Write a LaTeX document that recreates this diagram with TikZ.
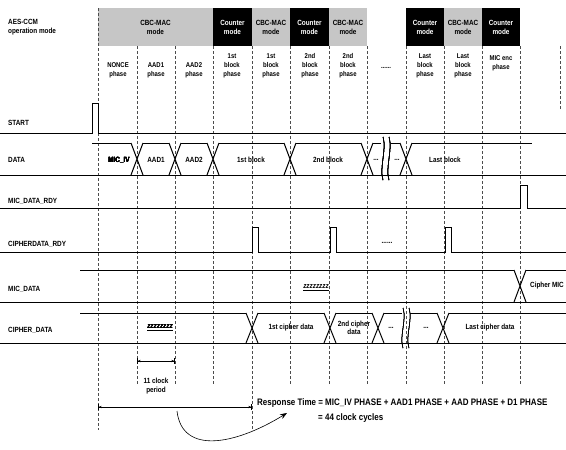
\documentclass[tikz,border=0pt]{standalone}
\usepackage{fontspec}
\setmainfont{Liberation Sans}[FakeStretch=0.85]
\usetikzlibrary{arrows.meta}
\tikzset{
 lbl/.style={anchor=west,font=\fontsize{7.5}{8.5}\bfseries\selectfont,inner sep=0pt,align=left},
 phase/.style={font=\fontsize{7}{9}\bfseries\selectfont,align=center,inner sep=0pt},
 txt/.style={font=\fontsize{7.5}{8.5}\bfseries\selectfont,align=center,inner sep=0pt},
 cbcbox/.style={fill=gray!45,font=\fontsize{7.5}{9}\bfseries\selectfont,align=center,inner sep=0pt,minimum height=38pt},
 ctrbox/.style={fill=black,text=white,font=\fontsize{7.5}{9}\bfseries\selectfont,align=center,inner sep=0pt,minimum width=38.5pt,minimum height=38pt},
 grid/.style={dash pattern=on 3pt off 2pt,line width=0.5pt,black!70},
 sig/.style={line width=0.8pt},
 bus/.style={line width=1pt},
 zz/.style={font=\fontsize{7.5}{8.5}\bfseries\itshape\selectfont,inner sep=0pt},
 resptxt/.style={anchor=west,font=\fontsize{9.4}{10}\bfseries\selectfont,inner sep=0pt},
}
\newcommand\buscross[3]{\draw[bus] (#1-6,#2) -- (#1+6,#3) (#1-6,#3) -- (#1+6,#2);}
\newcommand\busbreak[3]{%
 \draw[line width=0.5pt] (#1-3,#2) .. controls (#1+1,#2+12) and (#1-7,#3-12) .. (#1-3,#3);
 \draw[line width=0.5pt] (#1+3,#2) .. controls (#1+7,#2+12) and (#1-1,#3-12) .. (#1+3,#3);}

\begin{document}
\begin{tikzpicture}[x=1pt,y=-1pt]
    \useasboundingbox (0,0) rectangle (566,450);
    % header
    \node[cbcbox,minimum width=115pt] (cbc1) at (155.5,27) {CBC-MAC\\mode};
    \node[ctrbox] (ctr1) at (232.5,27) {Counter\\mode};
    \node[cbcbox,minimum width=38pt] (cbc2) at (271,27) {CBC-MAC\\mode};
    \node[ctrbox] (ctr2) at (309.5,27) {Counter\\mode};
    \node[cbcbox,minimum width=38pt] (cbc3) at (348,27) {CBC-MAC\\mode};
    \node[ctrbox] (ctr3) at (425,27) {Counter\\mode};
    \node[cbcbox,minimum width=38pt] (cbc4) at (463,27) {CBC-MAC\\mode};
    \node[ctrbox] (ctr4) at (501,27) {Counter\\mode};
    % grid
    \foreach \x in {137,175,213,290,329,367,406,444,482,520}
        \draw[grid] (\x,46) -- (\x,385);
    \draw[grid] (98,8) -- (98,430);
    \draw[grid] (252,46) -- (252,430);
    \draw[grid] (560,46) -- (560,110);
    % phases
    \node[phase] (ph1) at (118,70) {NONCE\\phase};
    \node[phase] (ph2) at (156,70) {AAD1\\phase};
    \node[phase] (ph3) at (194,70) {AAD2\\phase};
    \node[phase] (ph4) at (232,66) {1st\\block\\phase};
    \node[phase] (ph5) at (271,66) {1st\\block\\phase};
    \node[phase] (ph6) at (310,66) {2nd\\block\\phase};
    \node[phase] (ph7) at (348,66) {2nd\\block\\phase};
    \node[phase] (ph8) at (386,68) {......};
    \node[phase] (ph9) at (425,66) {Last\\block\\phase};
    \node[phase] (ph10) at (463,66) {Last\\block\\phase};
    \node[phase] (ph11) at (501,63) {MIC enc\\phase};
    % signal names
    \node[lbl] (mode) at (8,27) {AES-CCM\\operation mode};
    \node[lbl] (start) at (8,123) {START};
    \node[lbl] (data) at (8,160) {DATA};
    \node[lbl] (micrdy) at (8,201) {MIC\_DATA\_RDY};
    \node[lbl] (cphrdy) at (8,244) {CIPHERDATA\_RDY};
    \node[lbl] (micdata) at (8,289) {MIC\_DATA};
    \node[lbl] (cphdata) at (8,330) {CIPHER\_DATA};
    % START
    \draw[sig] (0,133) -- (92,133) -- (92,103) -- (98,103) -- (98,133) -- (566,133);
    % DATA
    \draw[bus] (0,175) -- (566,175);
    \draw[bus] (92,143) -- (131,143) (143,143) -- (169,143) (181,143) -- (207,143)
        (219,143) -- (284,143) (296,143) -- (361,143) (373,143) -- (381,143)
        (391,143) -- (400,143) (412,143) -- (532,143);
    \foreach \x in {137,175,213,290,367,406}
        \buscross{\x}{143}{175}
    \busbreak{386}{137}{180}
    \node[txt] (d1) at (119,160) {MIC\_IV};
    \node[txt] (d2) at (156,160) {AAD1};
    \node[txt] (d3) at (194,160) {AAD2};
    \node[txt] (d4) at (251,160) {1st block};
    \node[txt] (d5) at (328,160) {2nd block};
    \node[txt] (d6) at (376,160) {...};
    \node[txt] (d7) at (397,160) {...};
    \node[txt] (d8) at (445,160) {Last block};
    % MIC_DATA_RDY
    \draw[sig] (0,208) -- (520,208) -- (520,185) -- (527,185) -- (527,208) -- (566,208);
    % CIPHERDATA_RDY
    \draw[sig] (0,252) -- (252,252) -- (252,227) -- (258,227) -- (258,252)
        -- (330,252) -- (330,227) -- (336,227) -- (336,252)
        -- (445,252) -- (445,227) -- (451,227) -- (451,252) -- (566,252);
    \node[txt] (cdots) at (387,243) {......};
    % MIC_DATA
    \draw[bus] (0,302) -- (566,302);
    \draw[bus] (80,270) -- (514,270) (526,270) -- (566,270);
    \buscross{520}{270}{302}
    \node[zz] (mz) at (316,288) {\underline{zzzzzzzz}};
    \node[txt] (cmic) at (547,286) {Cipher MIC};
    % CIPHER_DATA
    \draw[bus] (0,343) -- (566,343);
    \draw[bus] (80,313) -- (246,313) (258,313) -- (324,313) (336,313) -- (372,313)
        (384,313) -- (402,313) (410,313) -- (437,313) (449,313) -- (566,313);
    \foreach \x in {252,330,378,443}
        \buscross{\x}{313}{343}
    \busbreak{406}{308}{348}
    \node[zz] (cz) at (160,328) {\underline{zzzzzzzz}};
    \node[txt] (c1) at (291,328) {1st cipher data};
    \node[txt] (c2) at (354,328) {2nd cipher\\data};
    \node[txt] (c3) at (391,328) {...};
    \node[txt] (c4) at (426,328) {...};
    \node[txt] (c5) at (490,328) {Last cipher data};
    % timing
    \coordinate (p1) at (137,361);
    \coordinate (p2) at (175,361);
    \draw[{Bar[]Stealth[length=3pt]}-{Stealth[length=3pt]Bar[]}, line width=0.6pt] (p1) -- (p2);
    \node[txt] (clk) at (156,386) {11 clock\\period};
    \coordinate (r1) at (98,407);
    \coordinate (r2) at (252,407);
    \draw[{Bar[]Stealth[length=3pt]}-{Stealth[length=3pt]Bar[]}, line width=0.6pt] (r1) -- (r2);
    \node[resptxt] (resp) at (257,403)
        {Response Time = MIC\_IV PHASE + AAD1 PHASE + AAD PHASE + D1 PHASE};
    \node[resptxt] (cyc) at (318,418) {= 44 clock cycles};
    \coordinate (a1) at (177,411);
    \coordinate (a2) at (287,413);
    \draw[-{Stealth[length=7pt]}, line width=0.6pt] (a1) .. controls (182,455) and (235,445) .. (a2);
\end{tikzpicture}
\end{document}
